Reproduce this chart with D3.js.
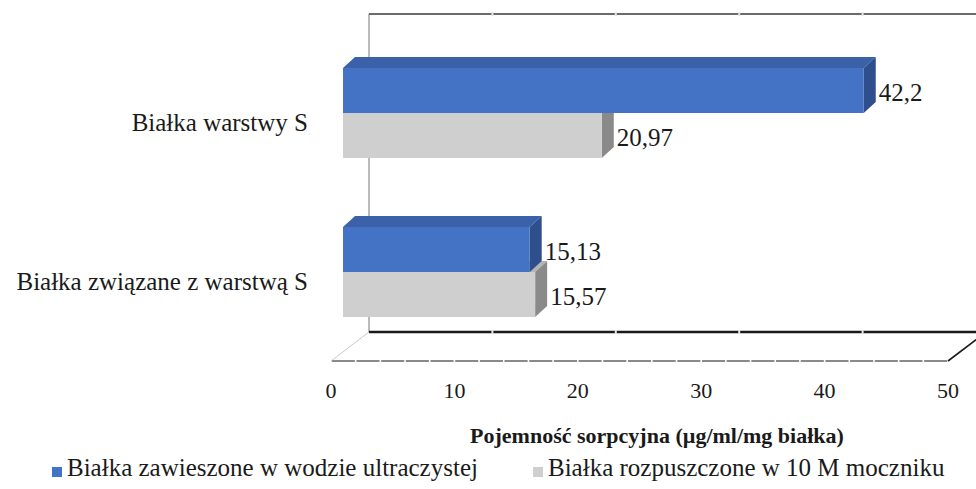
<!DOCTYPE html>
<html><head><meta charset="utf-8">
<script src="https://cdn.jsdelivr.net/npm/d3@7"></script>
<style>
html,body{margin:0;padding:0;background:#fff;}
svg{display:block;}
</style></head>
<body>
<svg id="chart" width="976" height="489"></svg>
<script>
// ---- data ----
const categories = ["Białka warstwy S", "Białka związane z warstwą S"];
const seriesNames = ["Białka zawieszone w wodzie ultraczystej", "Białka rozpuszczone w 10 M moczniku"];
const valuesWater = [42.2, 15.13];
const valuesUrea = [20.97, 15.57];
const tickValues = [0, 10, 20, 30, 40, 50];
const axisTitle = "Pojemność sorpcyjna (µg/ml/mg białka)";

// ---- style ----
const FONT = '"Liberation Serif"';
const TEXT_COLOR = "#1a1a1a";
const colors = {
  front: ["#4472C4", "#D0CFCF"],
  top: ["#3B61A8", "#B5B4B4"],
  side: ["#2F4E8C", "#8A8A8A"]
};
const dx = 12, dy = -11;

function draw() {
  const svg = d3.select("#chart");
  svg.selectAll("*").remove();
  const xBar = d3.scaleLinear().domain([0, 50]).range([343, 960]);
  const xFront = d3.scaleLinear().domain([0, 50]).range([331, 948]);
  const xBack = d3.scaleLinear().domain([0, 50]).range([369, 986]);
  const yCat = d3.scalePoint().domain(categories).range([113, 272]);
  const ySub = d3.scaleBand().domain(seriesNames).range([-45, 45]);
  const yFloorBack = 332, yFloorFront = 361, yTop = 14;

  const txt = sel => sel.style("font-family", FONT).attr("fill", TEXT_COLOR);

  // back wall frame
  svg.append("line").attr("x1", xBack(0)).attr("x2", xBack(0)).attr("y1", yTop).attr("y2", yFloorBack)
    .attr("stroke", "#8c8c8c").attr("stroke-width", 1.2);
  svg.append("line").attr("x1", xBack(0)).attr("x2", 976).attr("y1", yTop).attr("y2", yTop)
    .attr("stroke", "#3a3a3a").attr("stroke-width", 1.6);
  svg.append("line").attr("x1", xBack(0)).attr("x2", 976).attr("y1", yFloorBack).attr("y2", yFloorBack)
    .attr("stroke", "#1a1a1a").attr("stroke-width", 2.6);
  tickValues.slice(1).forEach(t => {
    const xb = xBack(t);
    if (xb < 976) {
      svg.append("rect").attr("x", xb - 1).attr("y", yTop - 2).attr("width", 2).attr("height", 4).attr("fill", "#e6e6e6");
      svg.append("rect").attr("x", xb - 1).attr("y", yFloorBack - 2).attr("width", 2).attr("height", 4).attr("fill", "#e6e6e6");
    }
  });
  d3.range(0, 50, 2).forEach(t => {
    svg.append("line").attr("x1", xFront(t) + 0.8).attr("x2", xFront(t + 2) - 0.8)
      .attr("y1", yFloorFront).attr("y2", yFloorFront)
      .attr("stroke", "#8a8a8a").attr("stroke-width", 2);
  });
  svg.append("line").attr("x1", xFront(0)).attr("y1", yFloorFront).attr("x2", xBack(0)).attr("y2", yFloorBack)
    .attr("stroke", "#c8c8c8").attr("stroke-width", 1);
  svg.append("line").attr("x1", xFront(50)).attr("y1", yFloorFront).attr("x2", xBack(50)).attr("y2", yFloorBack)
    .attr("stroke", "#1a1a1a").attr("stroke-width", 1.6);

  // tick labels
  txt(svg.append("g").selectAll("text").data(tickValues).join("text"))
    .attr("x", d => xFront(d)).attr("y", 398).attr("text-anchor", "middle")
    .attr("font-size", 22).text(d => d);

  // category labels
  txt(svg.append("g").selectAll("text").data(categories).join("text"))
    .attr("x", 308).attr("y", d => yCat(d) + 18).attr("text-anchor", "end")
    .attr("font-size", 25).text(d => d);

  // bars
  const series = [
    {name: seriesNames[0], values: valuesWater, idx: 0},
    {name: seriesNames[1], values: valuesUrea, idx: 1}
  ];
  const drawOrder = [series[1], series[0]];
  const gBars = svg.append("g");
  categories.forEach((c, ci) => {
    drawOrder.forEach(s => {
      const v = s.values[ci];
      const x0 = xBar(0), x1 = xBar(v);
      const y0 = yCat(c) + ySub(s.name), h = ySub.bandwidth();
      const y1 = y0 + h;
      gBars.append("polygon").attr("points", [[x0, y0], [x1, y0], [x1 + dx, y0 + dy], [x0 + dx, y0 + dy]].join(" "))
        .attr("fill", colors.top[s.idx]);
      gBars.append("polygon").attr("points", [[x1, y0], [x1 + dx, y0 + dy], [x1 + dx, y1 + dy], [x1, y1]].join(" "))
        .attr("fill", colors.side[s.idx]);
      gBars.append("rect").attr("x", x0).attr("y", y0).attr("width", x1 - x0).attr("height", h)
        .attr("fill", colors.front[s.idx]);
    });
  });
  // value labels
  categories.forEach((c, ci) => {
    series.forEach(s => {
      const v = s.values[ci];
      const y0 = yCat(c) + ySub(s.name);
      txt(svg.append("text")).attr("x", xBar(v) + dx + 3).attr("y", y0 + 33)
        .attr("font-size", 25).text(String(v).replace(".", ","));
    });
  });

  // axis title
  txt(svg.append("text")).attr("x", 657).attr("y", 443).attr("text-anchor", "middle")
    .attr("font-size", 22).attr("font-weight", "bold").text(axisTitle);

  // legend
  const legendX = [52, 533];
  series.forEach((s, i) => {
    svg.append("rect").attr("x", legendX[i]).attr("y", 467).attr("width", 10).attr("height", 10)
      .attr("fill", colors.front[i]);
    txt(svg.append("text")).attr("x", legendX[i] + 15).attr("y", 476).attr("font-size", 25).text(s.name);
  });
}

draw();
if (document.fonts && document.fonts.load) {
  Promise.all([
    document.fonts.load('25px "Liberation Serif"'),
    document.fonts.load('bold 22px "Liberation Serif"')
  ]).then(draw).catch(() => {});
}
</script>
</body></html>
